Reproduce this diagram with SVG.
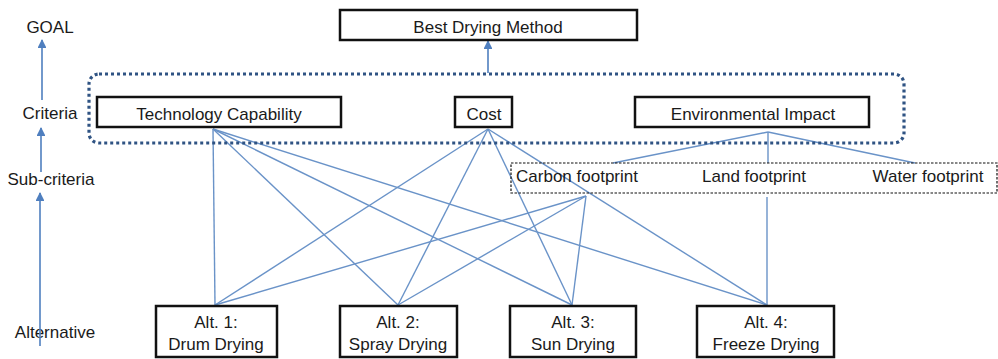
<svg xmlns="http://www.w3.org/2000/svg" width="998" height="359" viewBox="0 0 998 359">
<style>
text{font-family:"Liberation Sans",Arial,sans-serif;font-size:17px;fill:#1a1a1a;text-anchor:middle}
.box{fill:#fff;stroke:#111;stroke-width:2.5}
.ln{stroke:#6a93c8;stroke-width:1.4;fill:none}
.ar{stroke:#4f7fbf;stroke-width:1.6;fill:none;marker-end:url(#ah)}
</style>
<defs>
<marker id="ah" viewBox="0 0 10 10" refX="9" refY="5" markerWidth="5.5" markerHeight="5.5" orient="auto" markerUnits="strokeWidth">
<path d="M0,0 L10,5 L0,10 z" fill="#4f7fbf"/>
</marker>
</defs>
<g id="levels">
<text x="50" y="33">GOAL</text>
<text x="50" y="119">Criteria</text>
<text x="51" y="185">Sub-criteria</text>
<text x="55" y="338">Alternative</text>
</g>
<g id="connectors">
<line class="ar" x1="42" y1="100" x2="42" y2="40"/>
<line class="ar" x1="41" y1="172" x2="41" y2="128"/>
<line class="ar" x1="40" y1="346" x2="40" y2="193"/>
<line class="ar" x1="488" y1="73" x2="488" y2="41"/>
<line class="ln" x1="213" y1="129" x2="215" y2="305"/>
<line class="ln" x1="213" y1="129" x2="398" y2="305"/>
<line class="ln" x1="213" y1="129" x2="572" y2="305"/>
<line class="ln" x1="213" y1="129" x2="767" y2="305"/>
<line class="ln" x1="488" y1="129" x2="215" y2="305"/>
<line class="ln" x1="488" y1="129" x2="398" y2="305"/>
<line class="ln" x1="488" y1="129" x2="572" y2="305"/>
<line class="ln" x1="488" y1="129" x2="767" y2="305"/>
<line class="ln" x1="768" y1="132" x2="613" y2="163"/>
<line class="ln" x1="768" y1="132" x2="768" y2="163"/>
<line class="ln" x1="768" y1="132" x2="915" y2="163"/>
<line class="ln" x1="586" y1="196" x2="215" y2="305"/>
<line class="ln" x1="586" y1="196" x2="398" y2="305"/>
<line class="ln" x1="586" y1="196" x2="572" y2="305"/>
<line class="ln" x1="767" y1="197" x2="767" y2="305"/>
</g>
<rect x="89" y="74" width="815" height="69" rx="10" fill="none" stroke="#2f5383" stroke-width="3.2" stroke-dasharray="3 3"/>
<g id="goal">
<rect class="box" x="340" y="10" width="297" height="30"/>
<text x="488" y="33">Best Drying Method</text>
</g>
<g id="tech">
<rect class="box" x="97" y="97" width="244" height="30"/>
<text x="219" y="120">Technology Capability</text>
</g>
<g id="cost">
<rect class="box" x="455" y="97" width="57" height="30"/>
<text x="484" y="120">Cost</text>
</g>
<g id="env">
<rect class="box" x="635" y="97" width="234" height="30"/>
<text x="753" y="120">Environmental Impact</text>
</g>
<g id="subcriteria">
<rect x="511" y="163" width="486" height="30" fill="none" stroke="#111" stroke-width="1.2" stroke-dasharray="2.5 1.5"/>
<text x="577" y="182">Carbon footprint</text>
<text x="754" y="182">Land footprint</text>
<text x="928" y="182">Water footprint</text>
</g>
<g id="alt1">
<rect class="box" x="156" y="306" width="121" height="51"/>
<text x="216" y="328">Alt. 1:</text>
<text x="216" y="350">Drum Drying</text>
</g>
<g id="alt2">
<rect class="box" x="340" y="306" width="117" height="51"/>
<text x="398" y="328">Alt. 2:</text>
<text x="398" y="350">Spray Drying</text>
</g>
<g id="alt3">
<rect class="box" x="510" y="306" width="126" height="51"/>
<text x="573" y="328">Alt. 3:</text>
<text x="573" y="350">Sun Drying</text>
</g>
<g id="alt4">
<rect class="box" x="697" y="306" width="137" height="51"/>
<text x="766" y="328">Alt. 4:</text>
<text x="766" y="350">Freeze Drying</text>
</g>
</svg>
